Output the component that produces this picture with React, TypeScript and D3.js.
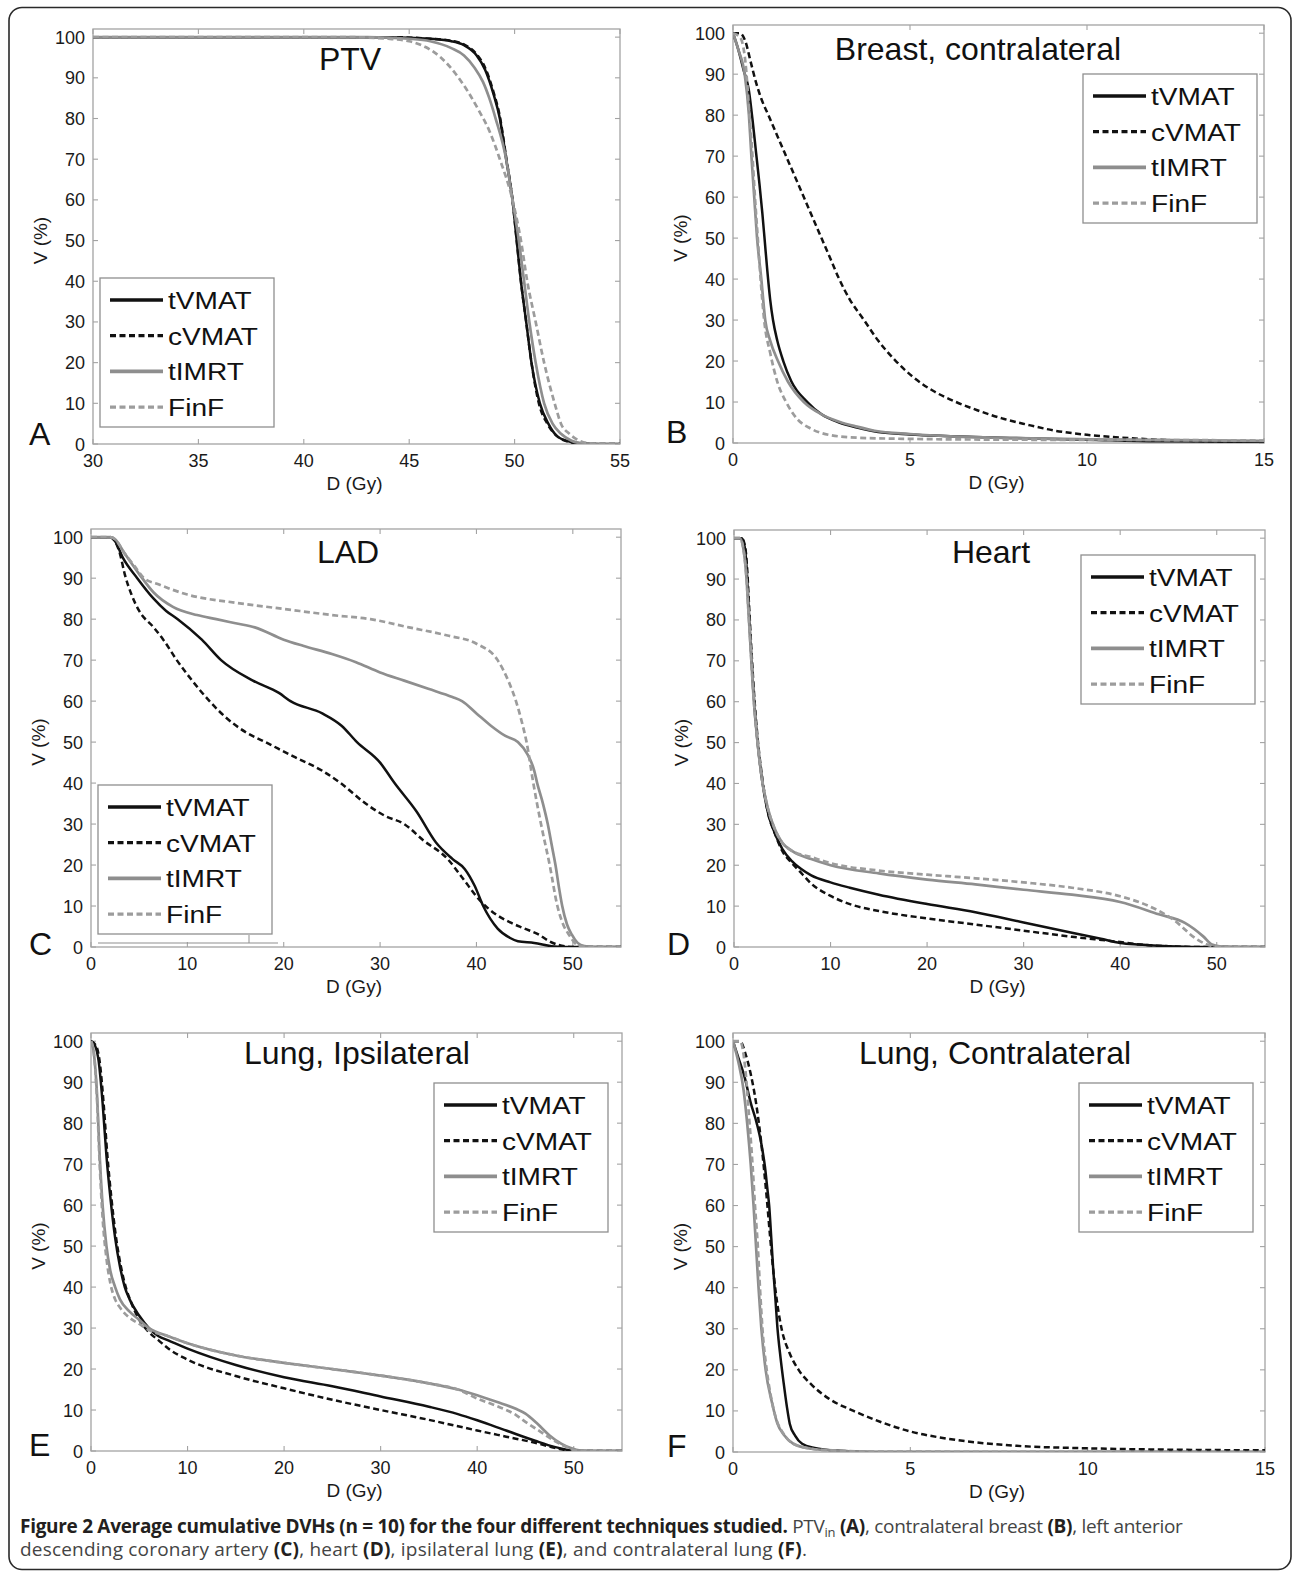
import React from 'react';
import * as d3 from 'd3';

type Pt = [number, number];

const SERIES_NAMES = ['tVMAT', 'cVMAT', 'tIMRT', 'FinF'];
const Y_TICKS = [0, 10, 20, 30, 40, 50, 60, 70, 80, 90, 100];
const X_TICKS_PTV = [30, 35, 40, 45, 50, 55];
const X_TICKS_LOW = [0, 5, 10, 15];
const X_TICKS_HIGH = [0, 10, 20, 30, 40, 50];

// A: PTV
const ptvTVMAT: Pt[] = [[30,100],[44,100],[46,99.6],[47,99],[47.6,98],[48.2,95.5],[48.6,92],[49,86],[49.3,80],[49.6,70],[49.9,60],[50.1,50],[50.3,40],[50.55,30],[50.8,20],[51.2,10],[51.6,5],[52,2],[52.6,0.6],[53.2,0.1],[54,0],[55,0]];
const ptvCVMAT: Pt[] = [[30,100],[44,100],[46,99.6],[47,99.1],[47.6,98.2],[48.2,95.8],[48.6,92.5],[49,86.5],[49.3,80.5],[49.6,70.5],[49.9,60],[50.1,50],[50.3,40],[50.55,30],[50.8,20],[51.15,10],[51.55,5],[52,2],[52.6,0.5],[53.2,0.1],[54,0],[55,0]];
const ptvTIMRT: Pt[] = [[30,100],[43,100],[45,99.6],[46,99],[47,97.3],[47.6,95.5],[48.1,92.5],[48.5,89],[48.8,85],[49.1,80],[49.6,70],[49.9,60],[50.2,50],[50.45,40],[50.7,30],[51,20],[51.4,10],[51.8,5],[52.2,2.5],[52.7,0.8],[53.3,0.1],[54,0],[55,0]];
const ptvFinF: Pt[] = [[30,100],[42,100],[44,99.6],[45,99],[45.8,97.5],[46.5,95],[47.2,91],[47.8,86.5],[48.3,82],[48.8,77],[49.3,70],[49.9,60],[50.3,50],[50.6,40],[51,30],[51.4,20],[51.9,10],[52.2,5],[52.6,2.5],[53,1],[53.5,0.2],[54.3,0],[55,0]];

// B: Breast, contralateral
const brTVMAT: Pt[] = [[0,100],[0.15,96],[0.3,91],[0.45,86],[0.55,79],[0.65,71],[0.75,63],[0.83,56],[0.9,49],[0.97,42],[1.05,35],[1.13,30],[1.25,25],[1.42,20],[1.65,15],[2.1,10],[2.5,7],[3.0,5],[3.5,3.8],[4.1,2.7],[5,2.1],[6,1.7],[8,1.2],[10,0.8],[12,0.4],[15,0.3]];
const brCVMAT: Pt[] = [[0,100],[0.2,100],[0.35,98],[0.5,93],[0.65,88],[0.8,84],[1.0,80],[1.25,75],[1.5,70],[1.75,65],[2.0,60],[2.25,55],[2.5,50],[2.75,45],[3.0,40],[3.3,35],[3.7,30],[4.1,25],[4.6,20],[5.1,16],[5.7,12.5],[6.3,10],[6.9,8],[7.6,6],[8.3,4.5],[9.1,3],[10,2],[11,1.3],[12,0.8],[13,0.5],[15,0.3]];
const brTIMRT: Pt[] = [[0,100],[0.15,96],[0.33,90],[0.45,80],[0.52,70],[0.6,60],[0.68,50],[0.8,40],[0.91,30],[1.05,25],[1.27,20],[1.55,15],[2.0,10],[2.5,7],[3,5.2],[3.5,4],[4,3],[5,2.2],[6,1.7],[8,1.2],[10,0.9],[15,0.5]];
const brFinF: Pt[] = [[0,100],[0.2,99],[0.35,93],[0.45,82],[0.55,70],[0.62,60],[0.7,50],[0.78,40],[0.88,30],[1.05,22],[1.25,15],[1.5,10],[1.8,6],[2.2,3.5],[2.7,2],[3.5,1.3],[5,1],[8,0.8],[13,0.7],[15,0.6]];

// C: LAD
const ladTVMAT: Pt[] = [[0,100],[2,100],[2.5,99],[3.3,95],[4.8,90],[6.5,85],[7.8,82],[9,80],[11.5,75],[13.5,70],[16.8,65],[19.5,62],[20.7,60],[24,57],[26,54],[27.6,50],[30,45],[31.5,40],[33.8,33],[35.8,25.5],[37.5,21.5],[38.8,19],[39.8,15],[40.7,10],[42.2,4.5],[43.5,2.2],[44.3,1.4],[46,1],[47.8,0.2],[49,0],[55,0]];
const ladCVMAT: Pt[] = [[0,100],[2,100],[2.5,99],[3,96],[3.5,91],[4.2,86],[5,82],[6.5,78],[7.5,75],[8.9,70],[10.5,65],[12.3,60],[14,56],[16,52.5],[18.1,50],[21,46.5],[24,43],[25.9,40],[28.5,35],[30.5,32],[32.5,30],[34.5,26],[37,21.5],[38.5,17],[40.5,11],[42,8],[43.5,6],[45,4.5],[46.5,3],[47.5,1.5],[48.5,0.5],[50,0],[55,0]];
const ladTIMRT: Pt[] = [[0,100],[2,100],[2.5,99.5],[3.5,96],[5,91],[6.5,86.5],[8.5,83],[11,81],[13,80],[15,79],[17,78],[20,75],[22,73.5],[25,71.5],[27.5,69.5],[30,67],[32.5,65],[35,63],[37.5,61],[38.5,60],[40,57],[41.5,54],[43,51.5],[44.3,50],[45.3,47],[46,43],[46.3,40],[46.9,35],[47.4,30],[47.8,25],[48.2,20],[48.6,14],[48.9,10],[49.4,5.5],[49.9,3],[50.5,1],[51.2,0.2],[52,0],[55,0]];
const ladFinF: Pt[] = [[0,100],[2,100],[2.5,99.5],[3.5,96],[4.5,93],[5.5,90],[7,88.5],[10,86],[15,84],[20,82.5],[25,81],[29,80],[33,78],[37,76],[40,74],[42.2,70],[43.3,65],[44.1,60],[44.7,55],[45.2,50],[45.9,40],[46.7,30],[47.6,20],[48.4,10],[49,5.5],[49.6,3],[50.2,1],[51,0.1],[51.5,0],[55,0]];

// D: Heart
const heartTVMAT: Pt[] = [[0,100],[0.8,100],[1.1,98],[1.3,93],[1.5,84],[1.7,75],[2,63],[2.4,51],[2.9,41],[3.5,33],[4.2,28],[5,24],[6,21],[7,19],[8,17.5],[10,15.8],[12,14.5],[15,12.8],[20,10.5],[25,8.5],[30,6],[35,3.5],[38,2],[40,1],[42,0.6],[45,0.2],[48,0],[55,0]];
const heartCVMAT: Pt[] = [[0,100],[0.8,100],[1.15,98],[1.35,93],[1.55,84],[1.75,75],[2.05,63],[2.45,51],[2.95,41],[3.5,33],[4.2,28],[5,23.5],[6,20.5],[7,18],[8,15.5],[10,12.5],[12,10.5],[15,8.8],[20,7],[25,5.5],[30,4],[35,2.5],[40,1.2],[42,0.6],[45,0.2],[48,0],[55,0]];
const heartTIMRT: Pt[] = [[0,100],[0.6,100],[1,97],[1.3,90],[1.5,82],[1.75,72],[2,62],[2.4,51],[2.9,41],[3.5,34],[4.2,29],[5,25.5],[6,23.5],[8,21.5],[10,20],[15,18],[20,16.5],[25,15.3],[30,14],[35,12.8],[40,11],[44,8],[46.7,5.9],[48.6,2.6],[49.5,0.6],[50.5,0.1],[52,0],[55,0]];
const heartFinF: Pt[] = [[0,100],[0.6,100],[1,97],[1.3,90],[1.5,82],[1.75,72],[2,62],[2.4,51],[2.9,41],[3.5,34],[4.2,29],[5,25.5],[6,23.5],[8,22],[10,20.5],[15,18.7],[20,17.7],[25,16.8],[30,15.8],[35,14.5],[40,12.4],[43,10],[45.5,6.7],[48,1.8],[49,0.6],[50,0.1],[51,0],[55,0]];

// E: Lung, Ipsilateral
const lungITVMAT: Pt[] = [[0,100],[0.4,99],[0.8,95],[1.2,85],[1.6,72],[2,62],[2.5,52],[3,45],[3.5,40],[4,37],[5,33],[6,30],[7,28],[8,27],[10,25],[15,21],[20,18],[25,15.8],[30,13.3],[35,10.8],[38,9],[40,7.5],[43,5],[46,2.5],[48,1],[49.5,0.2],[50,0],[55,0]];
const lungICVMAT: Pt[] = [[0,100],[0.5,99],[0.9,95],[1.3,85],[1.7,72],[2.1,62],[2.6,52],[3.1,45],[3.6,40],[4.2,36],[5,32],[6,29],[7,27],[8,25],[10,22.3],[15,18.3],[20,15.3],[25,12.5],[30,10],[35,7.6],[40,5],[43,3.5],[46,2],[48,0.8],[49.5,0.1],[50,0],[55,0]];
const lungITIMRT: Pt[] = [[0,100],[0.3,97],[0.6,88],[0.9,72],[1.2,60],[1.6,50],[2,44],[2.5,40],[3,37],[4,34],[5,32],[6,30],[8,28],[10,26.3],[15,23.3],[20,21.5],[25,20],[30,18.4],[35,16.5],[38,15],[40,13.6],[42,12],[44,10.3],[45,9.1],[46.3,6.5],[47.5,3.8],[48.7,1.8],[49.7,0.7],[50.7,0.1],[52,0],[55,0]];
const lungIFinF: Pt[] = [[0,100],[0.3,97],[0.6,87],[0.9,70],[1.2,57],[1.6,47],[2,41],[2.5,37],[3,35],[4,32.5],[5,31],[6,29.5],[8,28],[10,26.3],[15,23.3],[20,21.5],[25,20],[30,18.4],[35,16.5],[38,15],[40,12.8],[42,11],[44,8.8],[45,7.1],[46.5,4.8],[48,2.5],[49.3,0.9],[50.3,0.1],[52,0],[55,0]];

// F: Lung, Contralateral
const lungCTVMAT: Pt[] = [[0,100],[0.15,96],[0.32,91.5],[0.5,85],[0.67,80],[0.8,75],[0.9,69.5],[0.97,64],[1.02,60],[1.08,52],[1.13,45],[1.19,38],[1.25,30.5],[1.34,23],[1.43,16.7],[1.52,11],[1.6,6.9],[1.75,4],[1.95,2],[2.3,1],[3,0.3],[4,0],[15,0]];
const lungCCVMAT: Pt[] = [[0,100],[0.2,100],[0.35,97],[0.5,92],[0.65,85],[0.8,75],[0.95,62],[1.05,52],[1.15,43],[1.25,36],[1.37,30],[1.6,24],[1.85,20],[2.2,16.5],[2.7,13],[3.4,10],[4.2,7.2],[5,5],[6,3.3],[7,2.2],[8,1.5],[10,0.9],[12,0.6],[15,0.4]];
const lungCTIMRT: Pt[] = [[0,100],[0.15,95],[0.3,88],[0.4,80],[0.5,70],[0.58,60],[0.65,50],[0.72,40],[0.8,30],[0.92,20],[1.1,12],[1.25,7],[1.45,4],[1.7,2],[2.2,0.8],[3,0.3],[4,0],[15,0]];
const lungCFinF: Pt[] = [[0,100],[0.2,100],[0.35,93],[0.45,82],[0.55,70],[0.62,60],[0.7,50],[0.76,40],[0.83,30],[0.95,20],[1.08,13],[1.22,8],[1.42,4.5],[1.7,2],[2.2,0.8],[3,0.3],[4,0.1],[15,0]];

const STYLES = [
  { color: '#111111', dash: '', w: 2.5, lw: 3.4 },
  { color: '#111111', dash: '6,3.5', w: 2.5, lw: 3.2 },
  { color: '#8e8e8e', dash: '', w: 2.7, lw: 3.6 },
  { color: '#9c9c9c', dash: '6,3.5', w: 2.7, lw: 3.4 },
];

const PANELS = [
  { letter: 'A', title: 'PTV', xDomain: [30, 55], xTicks: X_TICKS_PTV, series: [ptvTVMAT, ptvCVMAT, ptvTIMRT, ptvFinF],
    box: { l: 93, r: 620, t: 29, b: 444 }, legend: { x: 100, y: 278 }, titleX: 350, titleY: 70, letterY: 445, letterX: 29 },
  { letter: 'B', title: 'Breast, contralateral', xDomain: [0, 15], xTicks: X_TICKS_LOW, series: [brTVMAT, brCVMAT, brTIMRT, brFinF],
    box: { l: 733, r: 1264, t: 25, b: 443 }, legend: { x: 1083, y: 74 }, titleX: 978, titleY: 60, letterY: 443, letterX: 666 },
  { letter: 'C', title: 'LAD', xDomain: [0, 55], xTicks: X_TICKS_HIGH, series: [ladTVMAT, ladCVMAT, ladTIMRT, ladFinF],
    box: { l: 91, r: 621, t: 529, b: 947 }, legend: { x: 98, y: 785 }, titleX: 348, titleY: 563, letterY: 955, letterX: 29 },
  { letter: 'D', title: 'Heart', xDomain: [0, 55], xTicks: X_TICKS_HIGH, series: [heartTVMAT, heartCVMAT, heartTIMRT, heartFinF],
    box: { l: 734, r: 1265, t: 530, b: 947 }, legend: { x: 1081, y: 555 }, titleX: 991, titleY: 563, letterY: 955, letterX: 667 },
  { letter: 'E', title: 'Lung, Ipsilateral', xDomain: [0, 55], xTicks: X_TICKS_HIGH, series: [lungITVMAT, lungICVMAT, lungITIMRT, lungIFinF],
    box: { l: 91, r: 622, t: 1033, b: 1451 }, legend: { x: 434, y: 1083 }, titleX: 357, titleY: 1064, letterY: 1456, letterX: 29 },
  { letter: 'F', title: 'Lung, Contralateral', xDomain: [0, 15], xTicks: X_TICKS_LOW, series: [lungCTVMAT, lungCCVMAT, lungCTIMRT, lungCFinF],
    box: { l: 733, r: 1265, t: 1033, b: 1452 }, legend: { x: 1079, y: 1083 }, titleX: 995, titleY: 1064, letterY: 1457, letterX: 667 },
];

const FONT = "'Liberation Sans', Arimo, Arial, Helvetica, sans-serif";
const CAP_FONT = "'Open Sans', 'Noto Sans', sans-serif";
const AXIS_GRAY = '#a3a3a3';

function Panel({ p, idx }: { p: any; idx: number }) {
  const { l, r, t, b } = p.box;
  const x = d3.scaleLinear().domain(p.xDomain).range([l, r]);
  const y = d3.scaleLinear().domain([0, 102]).range([b, t]);
  const line = d3.line<Pt>().x(d => x(d[0])).y(d => y(d[1])).curve(d3.curveMonotoneX);
  const clipId = `clip-${idx}`;
  const tick = 5;
  const midY = (y(0) + y(100)) / 2;
  return (
    <g>
      <defs>
        <clipPath id={clipId}>
          <rect x={l} y={t} width={r - l} height={b - t} />
        </clipPath>
      </defs>
      <rect x={l} y={t} width={r - l} height={b - t} fill="#fff" stroke={AXIS_GRAY} strokeWidth={1.3} />
      {p.xTicks.map((v: number) => (
        <g key={'xt' + v}>
          <line x1={x(v)} x2={x(v)} y1={b} y2={b - tick} stroke={AXIS_GRAY} strokeWidth={1.1} />
          <line x1={x(v)} x2={x(v)} y1={t} y2={t + tick} stroke={AXIS_GRAY} strokeWidth={1.1} />
          <text x={x(v)} y={b + 23} textAnchor="middle" fontFamily={FONT} fontSize={18} fill="#1a1a1a">{v}</text>
        </g>
      ))}
      {Y_TICKS.map((v: number) => (
        <g key={'yt' + v}>
          <line x1={l} x2={l + tick} y1={y(v)} y2={y(v)} stroke={AXIS_GRAY} strokeWidth={1.1} />
          <line x1={r} x2={r - tick} y1={y(v)} y2={y(v)} stroke={AXIS_GRAY} strokeWidth={1.1} />
          <text x={l - 8} y={y(v) + 6.5} textAnchor="end" fontFamily={FONT} fontSize={18} fill="#1a1a1a">{v}</text>
        </g>
      ))}
      <g clipPath={`url(#${clipId})`}>
        {p.series.map((s: Pt[], i: number) => (
          <path key={'s' + i} d={line(s) || ''} fill="none" stroke={STYLES[i].color} strokeWidth={STYLES[i].w}
            strokeDasharray={STYLES[i].dash || undefined} strokeLinejoin="round" />
        ))}
      </g>
      <text x={p.titleX} y={p.titleY} textAnchor="middle" fontFamily={FONT} fontSize={32} fill="#111">{p.title}</text>
      <text x={(l + r) / 2 - 2} y={b + 46} textAnchor="middle" fontFamily={FONT} fontSize={19} fill="#1a1a1a">D (Gy)</text>
      <text transform={`translate(${l - 46},${midY}) rotate(-90)`} textAnchor="middle" fontFamily={FONT} fontSize={19} fill="#1a1a1a">V (%)</text>
      <text x={p.letterX} y={p.letterY} fontFamily={FONT} fontSize={32} fill="#111">{p.letter}</text>
      <g>
        <rect x={p.legend.x} y={p.legend.y} width={174} height={149} fill="#fff" stroke="#8f8f8f" strokeWidth={1.3} />
        {SERIES_NAMES.map((name, i) => {
          const ry = p.legend.y + 22 + i * 35.7;
          return (
            <g key={'lg' + i}>
              <line x1={p.legend.x + 10} x2={p.legend.x + 63} y1={ry} y2={ry} stroke={STYLES[i].color}
                strokeWidth={STYLES[i].lw} strokeDasharray={STYLES[i].dash || undefined} />
              <text transform={`translate(${p.legend.x + 68},${ry + 9}) scale(1.17,1)`} fontFamily={FONT} fontSize={24} fill="#111">{name}</text>
            </g>
          );
        })}
      </g>
    </g>
  );
}

export default function App() {
  return (
    <svg width={1295} height={1572} style={{ position: 'absolute', left: 0, top: 0, background: '#fff' }}
      xmlns="http://www.w3.org/2000/svg">
      <rect x={0} y={0} width={1295} height={1572} fill="#fff" />
      <rect x={9} y={7.5} width={1282} height={1562} rx={13} ry={13} fill="none" stroke="#2a2a2a" strokeWidth={1.6} />
      {PANELS.map((p, i) => <Panel key={p.letter} p={p} idx={i} />)}
      {/* small artefact line under the LAD legend */}
      <line x1={98} x2={278} y1={943} y2={943} stroke="#8f8f8f" strokeWidth={1.2} />
      <line x1={249} x2={249} y1={935} y2={943} stroke="#8f8f8f" strokeWidth={1} />
      <text x={20} y={1533} fontFamily={CAP_FONT} fontSize={19} letterSpacing={-0.3} fill="#444">
        <tspan fontWeight="bold" fill="#231f20">Figure 2 Average cumulative DVHs (n = 10) for the four different techniques studied.</tspan>
        {' PTV'}
        <tspan fontSize={13} dy={4}>in</tspan>
        <tspan dy={-4}>{' '}</tspan>
        <tspan fontWeight="bold" fill="#231f20">(A)</tspan>
        {', contralateral breast '}
        <tspan fontWeight="bold" fill="#231f20">(B)</tspan>
        {', left anterior'}
      </text>
      <text x={20} y={1556} fontFamily={CAP_FONT} fontSize={19} letterSpacing={0.2} fill="#444">
        {'descending coronary artery '}
        <tspan fontWeight="bold" fill="#231f20">(C)</tspan>
        {', heart '}
        <tspan fontWeight="bold" fill="#231f20">(D)</tspan>
        {', ipsilateral lung '}
        <tspan fontWeight="bold" fill="#231f20">(E)</tspan>
        {', and contralateral lung '}
        <tspan fontWeight="bold" fill="#231f20">(F)</tspan>
        {'.'}
      </text>
    </svg>
  );
}
